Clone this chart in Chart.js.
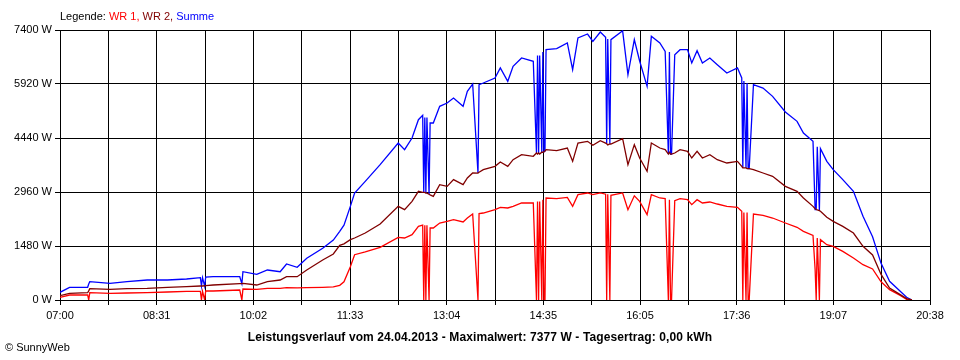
<!DOCTYPE html>
<html>
<head>
<meta charset="utf-8">
<script src="https://cdn.jsdelivr.net/npm/chart.js@4/dist/chart.umd.min.js"></script>
<style>
  body { margin: 0; background: #fff; }
  #wrap { position: relative; width: 960px; height: 360px; font-family: "Liberation Sans", Arial, sans-serif; font-size: 11px; }
  #chart { position: absolute; left: 0; top: 0; }
  #legende { position: absolute; left: 60px; top: 10px; line-height: 13px; color: #000; white-space: nowrap; }
  #titel { position: absolute; left: 0; width: 960px; top: 330px; text-align: center; font-weight: bold; font-size: 12px; letter-spacing: 0.1px; line-height: 14px; white-space: nowrap; }
  #copy { position: absolute; left: 5px; top: 341px; line-height: 13px; white-space: nowrap; }
</style>
</head>
<body>
<div id="wrap">
  <canvas id="chart" width="960" height="360"></canvas>
  <div id="legende">Legende: <span style="color:#ff0000">WR 1,</span> <span style="color:#800000">WR 2,</span> <span style="color:#0000ff">Summe</span></div>
  <div id="titel">Leistungsverlauf vom 24.04.2013 - Maximalwert: 7377 W - Tagesertrag: 0,00 kWh</div>
  <div id="copy">&copy; SunnyWeb</div>
</div>
<script>
// time of day for every sample
var times = [
  "07:00","07:09","07:26","07:27","07:28","07:47","08:03","08:22","08:41","08:59",
  "09:12","09:13","09:14","09:16","09:17","09:24","09:49","09:51","09:52","10:05",
  "10:15","10:27","10:33","10:43","10:52","11:07","11:17","11:23","11:27","11:33",
  "11:37","11:47","12:01","12:18","12:24","12:31","12:37","12:41","12:42","12:43",
  "12:44","12:45","12:47","12:48","12:51","12:57","13:04","13:10","13:19","13:23",
  "13:28","13:33","13:34","13:38","13:49","13:54","14:01","14:06","14:14","14:25",
  "14:28","14:29","14:30","14:31","14:33","14:34","14:35","14:36","14:37","14:47",
  "14:57","15:02","15:07","15:16","15:21","15:28","15:33","15:34","15:35","15:37",
  "15:38","15:49","15:54","16:00","16:05","16:12","16:16","16:24","16:29","16:32",
  "16:33","16:34","16:35","16:38","16:43","16:50","16:54","16:59","17:04","17:11",
  "17:18","17:27","17:37","17:41","17:42","17:43","17:45","17:46","17:47","17:48",
  "17:52","18:01","18:10","18:22","18:33","18:39","18:48","18:50","18:51","18:52",
  "18:54","18:55","19:01","19:07","19:16","19:26","19:35","19:44","19:52","20:00",
  "20:10","20:16","20:21"
]

var wr1 = [
  74,137,140,0,200,183,192,200,219,238,
  238,0,238,0,247,247,274,0,301,293,
  320,320,338,330,338,348,357,402,500,913,
  1242,1316,1443,1718,1699,1791,2019,2050,0,2050,
  0,2050,0,1973,1973,2110,2156,2202,2138,2247,
  2357,0,2370,2384,2476,2540,2522,2567,2659,2659,
  0,2700,0,2700,0,2750,0,0,2796,2777,
  2814,2567,2887,2933,2887,2933,2900,0,2900,0,
  2869,2933,2476,2855,2704,2339,2887,2796,2777,0,
  2750,0,0,2723,2777,2750,2613,2750,2659,2686,
  2631,2567,2540,2430,0,2400,0,2400,0,0,
  2357,2320,2247,2110,1992,1882,1772,830,0,1700,
  0,1654,1517,1471,1334,1151,968,850,500,283,
  128,18,0
]

var wr2 = [
  118,183,200,250,310,293,310,320,348,365,
  384,384,384,390,395,411,447,450,457,411,
  502,548,639,639,822,1096,1261,1498,1540,1654,
  1699,1836,2083,2567,2476,2704,2978,2950,2950,2950,
  2930,2930,2900,2880,2841,3161,3115,3298,3161,3344,
  3481,3480,3500,3572,3664,3782,3664,3846,3983,3938,
  4030,4000,4030,4000,4050,4050,4060,4080,4120,4093,
  4166,3800,4303,4349,4239,4367,4300,4280,4250,4280,
  4276,4422,3709,4257,3892,3526,4303,4166,4120,4000,
  4050,4000,4000,4029,4120,4075,3892,4075,3892,3983,
  3846,3755,3800,3664,3620,3620,3620,3600,3600,3600,
  3572,3481,3389,3115,2978,2796,2567,2500,2480,2470,
  2450,2430,2266,2156,2019,1836,1471,1233,700,329,
  146,37,0
]

var summe = [
  211,348,350,440,502,457,502,548,548,575,
  611,380,611,380,630,639,639,450,776,704,
  822,776,987,896,1143,1417,1644,1882,2050,2567,
  2933,3252,3709,4303,4120,4440,4942,5061,2950,5000,
  2930,5000,2900,4851,4851,5308,5399,5536,5308,5719,
  5920,3480,5900,5947,6085,6359,5993,6404,6633,6541,
  4030,6700,4030,6700,4050,6800,4060,4080,6861,6889,
  7044,6313,7181,7290,7090,7345,7200,4280,7150,4280,
  7135,7377,6176,7135,6550,5856,7226,7044,6815,4000,
  6800,4000,4000,6724,6861,6861,6496,6834,6496,6633,
  6450,6222,6359,6085,3620,6000,3620,5950,3600,3600,
  5902,5810,5582,5153,4897,4577,4349,2480,2480,4200,
  2450,4148,3800,3572,3298,2978,2293,1735,1005,512,
  238,73,0
]

// x axis: 19 grid lines, label on every second one
var xTickLabels = ["07:00","08:31","10:02","11:33","13:04","14:35","16:05","17:36","19:07","20:38"]
var yTicks = [0, 1480, 2960, 4440, 5920, 7400]

var startMin = 7 * 60
var endMin = 20 * 60 + 38

function toMin(t) {
    var p = t.split(":")
    return parseInt(p[0]) * 60 + parseInt(p[1]) - startMin
}

function points(values) {
    return values.map(function (v, i) {
        return { x: toMin(times[i]), y: v }
    })
}

function lineSet(label, values, color) {
    return {
        label: label,
        data: points(values),
        borderColor: color,
        borderWidth: 1.3,
        pointRadius: 0,
        tension: 0,
        fill: false
    }
}

var span = endMin - startMin

new Chart(document.getElementById("chart").getContext("2d"), {
    type: "line",
    data: {
        datasets: [
            lineSet("WR 2", wr2, "#800000"),
            lineSet("WR 1", wr1, "#ff0000"),
            lineSet("Summe", summe, "#0000ff")
        ]
    },
    options: {
        responsive: false,
        animation: false,
        layout: { padding: { left: 0, top: 30, right: 30, bottom: 35 } },
        plugins: {
            legend: { display: false },
            tooltip: { enabled: false }
        },
        scales: {
            x: {
                type: "linear",
                min: 0,
                max: span,
                afterBuildTicks: function (scale) {
                    var t = []
                    for (var i = 0; i <= 18; i++) t.push({ value: i * span / 18 })
                    scale.ticks = t
                },
                afterFit: function (scale) { scale.height = 25 },
                grid: { color: "#000", lineWidth: 1, tickLength: 5, drawTicks: true },
                border: { color: "#000", width: 1 },
                ticks: {
                    autoSkip: false,
                    maxRotation: 0,
                    padding: 4,
                    color: "#000",
                    font: { family: "Liberation Sans", size: 11 },
                    callback: function (value, index) {
                        return index % 2 === 0 ? xTickLabels[index / 2] : ""
                    }
                }
            },
            y: {
                min: 0,
                max: 7400,
                afterBuildTicks: function (scale) {
                    scale.ticks = yTicks.map(function (v) { return { value: v } })
                },
                afterFit: function (scale) { scale.width = 60 },
                grid: { color: "#000", lineWidth: 1, tickLength: 5, drawTicks: true },
                border: { color: "#000", width: 1 },
                ticks: {
                    autoSkip: false,
                    padding: 3,
                    color: "#000",
                    font: { family: "Liberation Sans", size: 11 },
                    callback: function (value) { return value + " W" }
                }
            }
        }
    }
})
</script>
</body>
</html>
